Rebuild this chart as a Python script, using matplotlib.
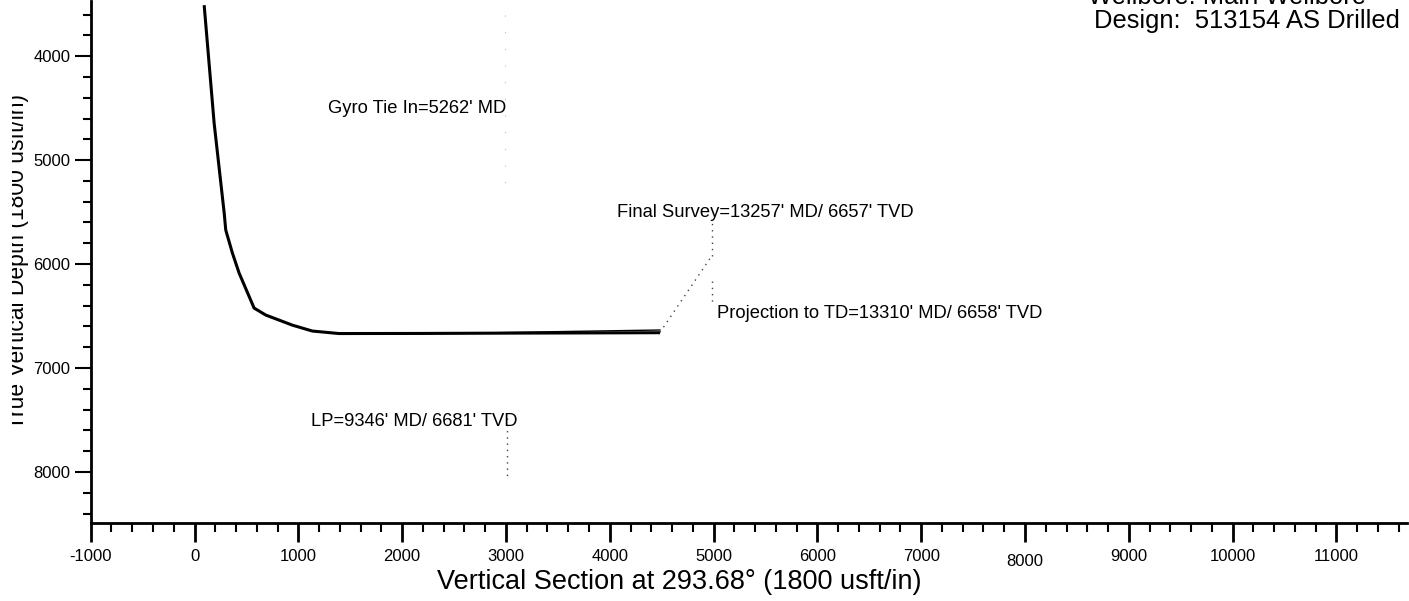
import numpy as np
import matplotlib
matplotlib.use('Agg')
import matplotlib.pyplot as plt
from matplotlib.transforms import Bbox, TransformedBbox

plt.rcParams['font.family'] = ['Liberation Sans', 'DejaVu Sans']
plt.rcParams['axes.unicode_minus'] = False

# well path (vertical section, TVD)
vs = [93, 189, 286, 301, 365, 430, 574, 686, 942, 1135, 1391, 2200, 3000, 3800, 4484]
tvd = [3510, 4644, 5510, 5673, 5894, 6087, 6423, 6490, 6587, 6644, 6668, 6667, 6664, 6662, 6660]

# second (thin) trace on the lateral
vs2 = [2900, 3600, 4484]
tvd2 = [6660, 6648, 6634]

# annotation points
final_vs, final_tvd = 4484, 6657
leader_vs = 4981

x_major = np.arange(-1000, 11001, 1000)
y_major = np.arange(4000, 8001, 1000)

W, H = 1409, 601
fig = plt.figure(figsize=(W / 100, H / 100), dpi=100)
ax = fig.add_axes([90.7 / W, (H - 523) / H, (1407 - 90.7) / W, (523 - 1) / H])

ax.plot(vs, tvd, color='black', lw=2.2, solid_capstyle='butt')
ax.plot(vs2, tvd2, color='black', lw=1.0)

dot = dict(color='#444444', lw=1.0, ls=(0, (1, 3.5)))
# final survey leader
ax.plot([final_vs, leader_vs], [final_tvd, 5923], **dot)
ax.plot([leader_vs, leader_vs], [5923, 5600], **dot)
# projection leader
ax.plot([leader_vs, leader_vs], [6165, 6400], **dot)
# LP leader
ax.plot([3010, 3010], [7480, 8060], **dot)
# gyro leader (faint)
ax.plot([2990, 2990], [3600, 5300], color='#bbbbbb', lw=0.8, ls=(0, (1, 14)))

tk = 12
an = 13.2
ax.text(1290, 4500, "Gyro Tie In=5262' MD", fontsize=an, va='center')
ax.text(4070, 5500, "Final Survey=13257' MD/ 6657' TVD", fontsize=an, va='center')
ax.text(5030, 6475, "Projection to TD=13310' MD/ 6658' TVD", fontsize=an, va='center')
ax.text(1120, 7515, "LP=9346' MD/ 6681' TVD", fontsize=an, va='center')

ax.set_xlim(-1000, 11680)
ax.set_ylim(8490, 3470)

ax.set_xticks(x_major)
ax.set_xticks(np.arange(-1000, 11700, 200), minor=True)
ax.set_yticks(y_major)
ax.set_yticks(np.arange(3600, 8500, 200), minor=True)

for s in ['top', 'right']:
    ax.spines[s].set_visible(False)
for s in ['left', 'bottom']:
    ax.spines[s].set_linewidth(2)

ax.tick_params(axis='x', which='major', direction='out', length=14, width=2, pad=5, labelsize=tk)
ax.tick_params(axis='x', which='minor', direction='out', length=6.5, width=1.5)
ax.tick_params(axis='y', which='major', direction='out', length=11.5, width=1.5, pad=3, labelsize=tk)
ax.tick_params(axis='y', which='minor', direction='out', length=5.8, width=1.5)

# the 8000 label sits a little lower on the original
ticks = ax.xaxis.get_major_ticks()
ticks[list(x_major).index(8000)].label1.set_y(-0.009)

fig.text(679 / W, 1 - 582 / H, 'Vertical Section at 293.68° (1800 usft/in)', fontsize=19.5,
         ha='center', va='center')

ylab = fig.text(29 / W, 1 - 261 / H, 'True Vertical Depth (1800 usft/in)', fontsize=16.5,
                rotation=90, ha='right', va='center')
ylab.set_clip_box(TransformedBbox(Bbox([[12 / W, 0], [1, 1]]), fig.transFigure))

fig.text(1366 / W, 1 - 4 / H, 'Wellbore: Main Wellbore', fontsize=18.4, ha='right', va='baseline')
fig.text(1400 / W, 1 - 28 / H, 'Design:  513154 AS Drilled', fontsize=18.4, ha='right', va='baseline')

fig.savefig('out.png', dpi=100)
